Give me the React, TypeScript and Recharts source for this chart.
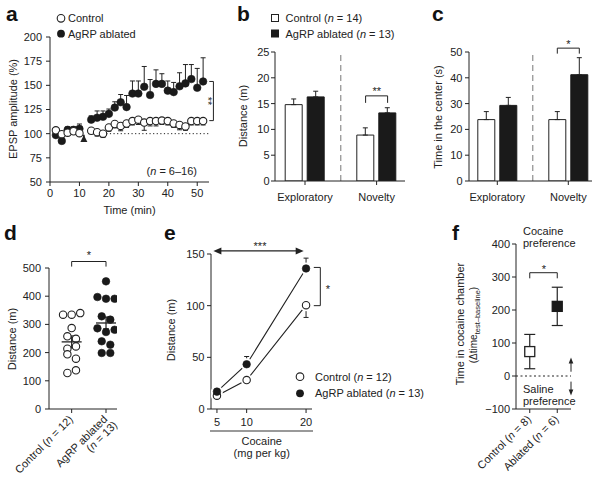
import React from 'react';
import {
  ScatterChart, Scatter, XAxis, YAxis, ErrorBar, ReferenceLine, ReferenceDot,
  BarChart, Bar, ComposedChart, Line,
} from 'recharts';

const FONT = '"Liberation Sans", Arial, Helvetica, sans-serif';
const INK = '#222';
const DARK = '#1a1a1a';

// ---------- Panel a: EPSP amplitude over time ----------
const timeMin = [2, 4, 6, 8, 10, 14, 16, 18, 20, 22, 24, 26, 28, 30, 32, 34, 36, 38, 40, 42, 44, 46, 48, 50, 52];
const epspControl = [103.5, 99.5, 101, 102.5, 100.5, 103, 101.5, 100, 106.5, 110, 108, 110.5, 113, 114.5, 111.5, 113, 113, 113.5, 113, 110.5, 109, 107.5, 113, 113, 113];
const epspControlSem = [2, 3, 3, 3, 2, 3, 4, 4, 4, 4, 5, 4, 4, 5, 8, 5, 5, 4, 4, 4, 5, 4, 4, 4, 4];
const epspAblated = [98.5, 92.5, 104, 104, 105, 114.5, 116.5, 117.5, 120.5, 127, 132.5, 127.5, 141.5, 141.5, 148.5, 140, 151.5, 151.5, 144.5, 143, 149, 152, 156.5, 147.5, 154];
const epspAblatedSem = [2, 0, 3, 3, 5, 4, 7, 6, 5, 6, 8, 12, 13, 13, 21, 16, 14.5, 10.5, 10, 10, 14, 19.5, 15, 20, 24.5];
const epspTicksY = [50, 75, 100, 125, 150, 175, 200];
const epspTicksX = [0, 10, 20, 30, 40, 50];

// ---------- Panel b / c: open field ----------
const testCategories = ['Exploratory', 'Novelty'];
const distanceControl = [14.8, 8.9];
const distanceControlSem = [1.1, 1.4];
const distanceAblated = [16.3, 13.2];
const distanceAblatedSem = [1.1, 1.0];
const centerControl = [23.8, 23.8];
const centerControlSem = [3.1, 3.1];
const centerAblated = [29.3, 41.2];
const centerAblatedSem = [3.1, 6.6];

// ---------- Panel d: distance dot plot ----------
const dControlValues = [334.5, 334.5, 340, 287, 257.7, 249, 214, 222, 194, 178.5, 127.7, 137];
const dControlSlots = [-2, 0, 2, 0, -1, 1, -1, 1, -1, 1, -1, 1];
const dAblatedValues = [452.7, 397, 391, 391, 328.6, 316.8, 286, 273, 281, 240, 228, 198.6, 198.6];
const dAblatedSlots = [0, -2, 0, 2, -1, 1, -2, 0, 2, -1, 1, -1, 1];
const dMeans = [238, 305];
const dSems = [21, 21];
const dGroupLabels = [['Control (', 'n', ' = 12)'], ['AgRP ablated', '(', 'n', ' = 13)']];

// ---------- Panel e: cocaine dose response ----------
const cocaineDose = [5, 10, 20];
const doseControl = [12.9, 28, 100.5];
const doseControlSem = [1.5, 3, 11.9];
const doseAblated = [16.8, 43.3, 136];
const doseAblatedSem = [1.5, 7.5, 10];

// ---------- Panel f: conditioned place preference ----------
const prefGroups = [1, 2];
const prefMean = [74, 211];
const prefSem = [52, 58];
const prefLabels = ['Control', 'Ablated'];
const prefN = [8, 6];

const TXT = { fill: INK, fontSize: 11, fontFamily: FONT };

const OpenCircle = (p: any) => (
  <circle cx={p.cx} cy={p.cy} r={3.7} fill="#fff" stroke={INK} strokeWidth={1.1} />
);
const FilledCircle = (p: any) => (
  <circle cx={p.cx} cy={p.cy} r={3.8} fill={DARK} stroke={DARK} strokeWidth={0.6} />
);
const arrowHead = (dir: string, len: number, hw: number) => (p: any) => {
  const { cx, cy } = p;
  let d = '';
  if (dir === 'up') d = `M${cx},${cy} L${cx - hw},${cy + len} L${cx + hw},${cy + len} Z`;
  if (dir === 'down') d = `M${cx},${cy} L${cx - hw},${cy - len} L${cx + hw},${cy - len} Z`;
  if (dir === 'left') d = `M${cx},${cy} L${cx + len},${cy - hw} L${cx + len},${cy + hw} Z`;
  if (dir === 'right') d = `M${cx},${cy} L${cx - len},${cy - hw} L${cx - len},${cy + hw} Z`;
  return <path d={d} fill={INK} stroke="none" />;
};

const segProps = { stroke: INK, strokeWidth: 1, ifOverflow: 'visible' as const };

function PanelA() {
  const ctrl = timeMin.map((t, i) => ({ x: t, y: epspControl[i], err: [epspControlSem[i], 0] }));
  const abl = timeMin.map((t, i) => ({ x: t, y: epspAblated[i], err: [0, epspAblatedSem[i]] }));
  return (
    <ScatterChart width={230} height={220} margin={{ top: 37, right: 21, bottom: 13, left: 10 }}>
      <XAxis type="number" dataKey="x" domain={[0, 54]} ticks={epspTicksX} allowDataOverflow height={25}
        tickSize={4} tickMargin={3} stroke={INK} tick={TXT} />
      <YAxis type="number" dataKey="y" domain={[50, 200]} ticks={epspTicksY} allowDataOverflow width={40}
        tickSize={4} tickMargin={4} stroke={INK} tick={TXT} />
      <ReferenceLine segment={[{ x: 13, y: 100 }, { x: 54, y: 100 }]} stroke={INK} strokeWidth={1}
        strokeDasharray="1.2 2.4" ifOverflow="visible" />
      <ReferenceLine segment={[{ x: 11.5, y: 93 }, { x: 11.5, y: 99 }]} stroke={INK} strokeWidth={1.6} ifOverflow="visible" />
      <ReferenceDot x={11.5} y={98.5} r={1} shape={arrowHead('up', 7, 3.5)} ifOverflow="visible" />
      <ReferenceLine segment={[{ x: 55.5, y: 113.5 }, { x: 55.5, y: 154 }]} {...segProps} />
      <ReferenceLine segment={[{ x: 54.1, y: 154 }, { x: 55.5, y: 154 }]} {...segProps} />
      <ReferenceLine segment={[{ x: 54.1, y: 113.5 }, { x: 55.5, y: 113.5 }]} {...segProps} />
      <Scatter data={abl} shape={FilledCircle} isAnimationActive={false}>
        <ErrorBar dataKey="err" direction="y" width={2.5} stroke={INK} strokeWidth={1} />
      </Scatter>
      <Scatter data={ctrl} shape={OpenCircle} isAnimationActive={false}>
        <ErrorBar dataKey="err" direction="y" width={2.5} stroke={INK} strokeWidth={1} />
      </Scatter>
    </ScatterChart>
  );
}

function BarPanel(props: {
  ctrl: number[]; ctrlSem: number[]; abl: number[]; ablSem: number[];
  width: number; right: number; pad: { left: number; right: number };
  yMax: number; yTicks: number[]; yTickMargin: number;
  bracketY: number; legPx: number;
}) {
  const data = testCategories.map((c, i) => ({
    cat: c, control: props.ctrl[i], ablated: props.abl[i],
    cErr: [0, props.ctrlSem[i]], aErr: [0, props.ablSem[i]],
  }));
  const half = 11; // half the distance between the two bar centres (barSize 17 + barGap 5)
  const Bracket = (p: any) => (
    <path d={`M${p.cx - half},${p.cy + props.legPx} V${p.cy} H${p.cx + half} V${p.cy + props.legPx}`}
      fill="none" stroke={INK} strokeWidth={1} />
  );
  return (
    <BarChart width={props.width} height={215} data={data}
      margin={{ top: 52, right: props.right, bottom: 9, left: 10 }} barSize={17} barGap={5}>
      <XAxis dataKey="cat" padding={props.pad} height={25} tickSize={4} tickMargin={8} stroke={INK} tick={TXT} />
      <YAxis domain={[0, props.yMax]} ticks={props.yTicks} allowDataOverflow width={30} tickSize={4}
        tickMargin={props.yTickMargin} stroke={INK} tick={TXT} />
      <ReferenceLine x="Exploratory" position="end" stroke="#777" strokeWidth={1} strokeDasharray="6 4" />
      <Bar dataKey="control" fill="#fff" stroke={INK} strokeWidth={1} isAnimationActive={false}>
        <ErrorBar dataKey="cErr" direction="y" width={2.5} stroke={INK} strokeWidth={1} />
      </Bar>
      <Bar dataKey="ablated" fill={DARK} stroke={DARK} strokeWidth={1} isAnimationActive={false}>
        <ErrorBar dataKey="aErr" direction="y" width={2.5} stroke={INK} strokeWidth={1} />
      </Bar>
      <ReferenceDot x="Novelty" y={props.bracketY} r={1} shape={Bracket} ifOverflow="visible" />
    </BarChart>
  );
}

function DTick(p: any) {
  const { x, y, payload } = p;
  const idx = payload.value === 1 ? 0 : 1;
  const lab = dGroupLabels[idx];
  const common = { fontSize: 11, fontFamily: FONT, fill: INK, textAnchor: 'end' as const };
  return (
    <g transform={`translate(${x + 2},${y + 5}) rotate(-45)`}>
      {idx === 0 ? (
        <text {...common}>{lab[0]}<tspan fontStyle="italic">{lab[1]}</tspan>{lab[2]}</text>
      ) : (
        <>
          <text {...common}>{lab[0]}</text>
          <text {...common} x={3} y={11}>{lab[1]}<tspan fontStyle="italic">{lab[2]}</tspan>{lab[3]}</text>
        </>
      )}
    </g>
  );
}

function PanelD() {
  const step = 0.125;
  const ctrl = dControlValues.map((v, i) => ({ x: 1 + dControlSlots[i] * step, y: v }));
  const abl = dAblatedValues.map((v, i) => ({ x: 2 + dAblatedSlots[i] * step, y: v }));
  const means = dMeans.map((m, i) => ({ x: i + 1, y: m, err: dSems[i] }));
  const MeanShape = (p: any) => (
    <line x1={p.cx - 10} x2={p.cx + 10} y1={p.cy} y2={p.cy} stroke={INK} strokeWidth={1.3} />
  );
  return (
    <ScatterChart width={130} height={248} margin={{ top: 38, right: 13, bottom: 9, left: 9 }}>
      <XAxis type="number" dataKey="x" domain={[0.34, 2.32]} ticks={[1, 2]} allowDataOverflow height={60}
        tickSize={4} tickMargin={2} stroke={INK} tick={(p: any) => <DTick {...p} />} interval={0} />
      <YAxis type="number" dataKey="y" domain={[0, 500]} ticks={[0, 100, 200, 300, 400, 500]} allowDataOverflow
        width={40} tickSize={4} tickMargin={4} stroke={INK} tick={TXT} />
      <Scatter data={ctrl} shape={OpenCircle} isAnimationActive={false} />
      <Scatter data={abl} shape={FilledCircle} isAnimationActive={false} />
      <Scatter data={means} shape={MeanShape} isAnimationActive={false}>
        <ErrorBar dataKey="err" direction="y" width={3} stroke={INK} strokeWidth={1.2} />
      </Scatter>
      <ReferenceLine segment={[{ x: 1, y: 523 }, { x: 2, y: 523 }]} {...segProps} />
      <ReferenceLine segment={[{ x: 1, y: 523 }, { x: 1, y: 505 }]} {...segProps} />
      <ReferenceLine segment={[{ x: 2, y: 523 }, { x: 2, y: 505 }]} {...segProps} />
    </ScatterChart>
  );
}

function PanelE() {
  const data = cocaineDose.map((d, i) => ({
    dose: d, control: doseControl[i], ablated: doseAblated[i],
    cErr: [doseControlSem[i], 0], aErr: [0, doseAblatedSem[i]],
  }));
  const halo = (p: any) => <circle key={`h${p.index}`} cx={p.cx} cy={p.cy} r={6} fill="#fff" stroke="none" />;
  const open = (p: any) => <OpenCircle key={`o${p.index}`} {...p} />;
  const filled = (p: any) => <FilledCircle key={`f${p.index}`} {...p} />;
  return (
    <ComposedChart width={260} height={248} data={data} margin={{ top: 24, right: 108, bottom: 39, left: 11 }}>
      <XAxis type="number" dataKey="dose" domain={[4, 21]} ticks={cocaineDose} allowDataOverflow height={30}
        tickSize={4} tickMargin={5} stroke={INK} tick={TXT} />
      <YAxis domain={[0, 150]} ticks={[0, 50, 100, 150]} allowDataOverflow width={40} tickSize={4}
        tickMargin={2.5} stroke={INK} tick={TXT} />
      <Line dataKey="control" stroke={INK} strokeWidth={1.1} dot={halo} activeDot={false} isAnimationActive={false} />
      <Line dataKey="ablated" stroke={INK} strokeWidth={1.1} dot={halo} activeDot={false} isAnimationActive={false} />
      <Line dataKey="control" stroke="none" dot={open} activeDot={false} isAnimationActive={false}>
        <ErrorBar dataKey="cErr" direction="y" width={2.5} stroke={INK} strokeWidth={1} />
      </Line>
      <Line dataKey="ablated" stroke="none" dot={filled} activeDot={false} isAnimationActive={false}>
        <ErrorBar dataKey="aErr" direction="y" width={2.5} stroke={INK} strokeWidth={1} />
      </Line>
      <ReferenceLine segment={[{ x: 5.4, y: 153 }, { x: 18.6, y: 153 }]} stroke={INK} strokeWidth={1.3} ifOverflow="visible" />
      <ReferenceDot x={4.4} y={153} r={1} shape={arrowHead('left', 8, 3.5)} ifOverflow="visible" />
      <ReferenceDot x={19.6} y={153} r={1} shape={arrowHead('right', 8, 3.5)} ifOverflow="visible" />
      <ReferenceLine segment={[{ x: 22.4, y: 100 }, { x: 22.4, y: 137 }]} {...segProps} />
      <ReferenceLine segment={[{ x: 21.3, y: 137 }, { x: 22.4, y: 137 }]} {...segProps} />
      <ReferenceLine segment={[{ x: 21.3, y: 100 }, { x: 22.4, y: 100 }]} {...segProps} />
    </ComposedChart>
  );
}

function FTick(p: any) {
  const { x, y, payload } = p;
  const idx = payload.value === 1 ? 0 : 1;
  return (
    <g transform={`translate(${x + 2},${y + 5}) rotate(-45)`}>
      <text fontSize={11} fontFamily={FONT} fill={INK} textAnchor="end">
        {prefLabels[idx]} (<tspan fontStyle="italic">n</tspan> = {prefN[idx]})
      </text>
    </g>
  );
}

function PanelF() {
  const data = prefGroups.map((g, i) => ({ x: g, y: prefMean[i], err: prefSem[i] }));
  const Square = (p: any) => {
    const filled = p.payload && p.payload.x === 2;
    return <rect x={p.cx - 5} y={p.cy - 5} width={10} height={10} fill={filled ? DARK : '#fff'}
      stroke={filled ? DARK : INK} strokeWidth={1.3} />;
  };
  const fmt = (v: number) => (v < 0 ? `\u2212${Math.abs(v)}` : `${v}`);
  return (
    <ScatterChart width={135} height={253} margin={{ top: 19, right: 30, bottom: 19, left: 10 }}>
      <XAxis type="number" dataKey="x" domain={[0.5, 2.5]} ticks={prefGroups} allowDataOverflow height={50}
        tickSize={4} tickMargin={2} stroke={INK} tick={(p: any) => <FTick {...p} />} interval={0} />
      <YAxis type="number" dataKey="y" domain={[-100, 400]} ticks={[-100, 0, 100, 200, 300, 400]} allowDataOverflow
        width={40} tickSize={4} tickMargin={2} stroke={INK} tick={TXT} tickFormatter={fmt} />
      <ReferenceLine y={0} stroke={INK} strokeWidth={1} strokeDasharray="2 2.5" ifOverflow="visible" />
      <ReferenceLine segment={[{ x: 2.5, y: 13 }, { x: 2.5, y: 49 }]} {...segProps} />
      <ReferenceDot x={2.5} y={56} r={1} shape={arrowHead('up', 6, 2.3)} ifOverflow="visible" />
      <ReferenceLine segment={[{ x: 2.5, y: -17 }, { x: 2.5, y: -52 }]} {...segProps} />
      <ReferenceDot x={2.5} y={-59} r={1} shape={arrowHead('down', 6, 2.3)} ifOverflow="visible" />
      <ReferenceLine segment={[{ x: 1, y: 313 }, { x: 2, y: 313 }]} {...segProps} />
      <ReferenceLine segment={[{ x: 1, y: 313 }, { x: 1, y: 296 }]} {...segProps} />
      <ReferenceLine segment={[{ x: 2, y: 313 }, { x: 2, y: 296 }]} {...segProps} />
      <Scatter data={data} shape={Square} isAnimationActive={false}>
        <ErrorBar dataKey="err" direction="y" width={5.5} stroke={INK} strokeWidth={1.2} />
      </Scatter>
    </ScatterChart>
  );
}

function Overlay() {
  const t = { fontFamily: FONT, fontSize: 11, fill: INK };
  const L = { fontFamily: FONT, fontSize: 21, fontWeight: 700, fill: '#111' };
  const rot = (x: number, y: number, s: string, extra: any = {}) => (
    <text {...t} {...extra} x={x} y={y} textAnchor="middle" transform={`rotate(-90 ${x} ${y})`}>{s}</text>
  );
  return (
    <svg width={601} height={478} style={{ position: 'absolute', left: 0, top: 0, pointerEvents: 'none' }}>
      {/* panel letters */}
      <text {...L} x={6} y={21}>a</text>
      <text {...L} x={237} y={21}>b</text>
      <text {...L} x={432} y={21}>c</text>
      <text {...L} x={4} y={240}>d</text>
      <text {...L} x={164} y={240}>e</text>
      <text {...L} x={452} y={240}>f</text>

      {/* panel a */}
      <circle cx={61} cy={18.3} r={3.8} fill="#fff" stroke={INK} strokeWidth={1.1} />
      <circle cx={61} cy={33.7} r={3.9} fill={DARK} />
      <text {...t} x={68} y={22.3}>Control</text>
      <text {...t} x={68} y={37.7}>AgRP ablated</text>
      {rot(17, 109, 'EPSP amplitude (%)')}
      <text {...t} x={129.5} y={214} textAnchor="middle">Time (min)</text>
      <text {...t} x={197} y={174.5} textAnchor="end">(<tspan fontStyle="italic">n</tspan> = 6–16)</text>
      <text {...t} x={207.5} y={101} textAnchor="middle" transform="rotate(90 207.5 101)" dy={4}>**</text>

      {/* panel b */}
      <rect x={271.5} y={14.5} width={7} height={7} fill="#fff" stroke={INK} strokeWidth={1} />
      <rect x={271.5} y={30} width={7} height={7} fill={DARK} stroke={DARK} strokeWidth={1} />
      <text {...t} x={285.5} y={21.8}>Control (<tspan fontStyle="italic">n</tspan> = 14)</text>
      <text {...t} x={285.5} y={37.5}>AgRP ablated (<tspan fontStyle="italic">n</tspan> = 13)</text>
      {rot(247, 116, 'Distance (m)')}
      <text {...t} x={376.7} y={95} textAnchor="middle">**</text>

      {/* panel c */}
      {rot(442, 117, 'Time in the center (s)')}
      <text {...t} x={568.5} y={47.5} textAnchor="middle">*</text>

      {/* panel d */}
      {rot(16, 339, 'Distance (m)')}
      <text {...t} x={88.8} y={259} textAnchor="middle">*</text>

      {/* panel e */}
      {rot(175, 330, 'Distance (m)')}
      <text {...t} x={260} y={250} textAnchor="middle">***</text>
      <text {...t} x={328} y={293} textAnchor="middle">*</text>
      <circle cx={300} cy={376.7} r={3.8} fill="#fff" stroke={INK} strokeWidth={1.1} />
      <circle cx={300} cy={393.3} r={3.9} fill={DARK} />
      <text {...t} x={315} y={380.7}>Control (<tspan fontStyle="italic">n</tspan> = 12)</text>
      <text {...t} x={315} y={397.3}>AgRP ablated (<tspan fontStyle="italic">n</tspan> = 13)</text>
      <line x1={210} x2={313} y1={431} y2={431} stroke="#777" strokeWidth={1.5} />
      <text {...t} x={261.7} y={445} textAnchor="middle">Cocaine</text>
      <text {...t} x={261.7} y={456.5} textAnchor="middle">(mg per kg)</text>

      {/* panel f */}
      <text {...t} x={523} y={234.5}>Cocaine</text>
      <text {...t} x={523} y={246.5}>preference</text>
      <text {...t} x={523} y={392.5}>Saline</text>
      <text {...t} x={523} y={404.5}>preference</text>
      <text {...t} x={543.8} y={272.5} textAnchor="middle">*</text>
      {rot(464, 324, 'Time in cocaine chamber')}
      <text {...t} fontSize={10} x={477} y={325} textAnchor="middle" transform="rotate(-90 477 325)">
        (Δtime<tspan fontSize={7.5} dy={2.5}>test–baseline</tspan><tspan dy={-2.5}>)</tspan>
      </text>
    </svg>
  );
}

export default function App() {
  return (
    <div style={{ position: 'absolute', left: 0, top: 0, width: 601, height: 478, background: '#fff', overflow: 'hidden', fontFamily: FONT }}>
      <div style={{ position: 'absolute', left: 0, top: 0 }}><PanelA /></div>
      <div style={{ position: 'absolute', left: 235, top: 0 }}>
        <BarPanel ctrl={distanceControl} ctrlSem={distanceControlSem} abl={distanceAblated} ablSem={distanceAblatedSem}
          width={180} right={10} pad={{ left: -5.8, right: -7.4 }} yMax={25} yTicks={[0, 5, 10, 15, 20, 25]} yTickMargin={1.5}
          bracketY={16.5} legPx={7} />
      </div>
      <div style={{ position: 'absolute', left: 429, top: 0 }}>
        <BarPanel ctrl={centerControl} ctrlSem={centerControlSem} abl={centerAblated} ablSem={centerAblatedSem}
          width={172} right={9} pad={{ left: -7.2, right: -11.8 }} yMax={50} yTicks={[0, 10, 20, 30, 40, 50]} yTickMargin={2.5}
          bracketY={51.5} legPx={5.5} />
      </div>
      <div style={{ position: 'absolute', left: 0, top: 230 }}><PanelD /></div>
      <div style={{ position: 'absolute', left: 160, top: 230 }}><PanelE /></div>
      <div style={{ position: 'absolute', left: 466, top: 225 }}><PanelF /></div>
      <Overlay />
    </div>
  );
}
